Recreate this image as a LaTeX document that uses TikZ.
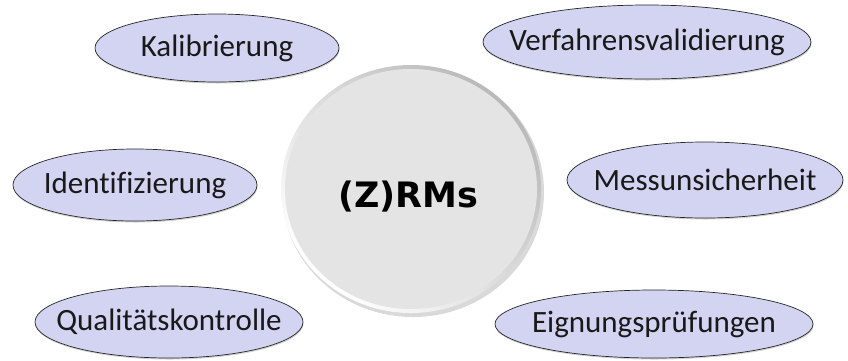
\documentclass[tikz,border=0pt]{standalone}
\usepackage{fontspec}
\setmainfont[Ligatures=NoCommon]{Carlito}
\newfontfamily\discfont{DejaVu Sans}
\usetikzlibrary{shapes.geometric,shadows}
\definecolor{lav}{HTML}{D2D4F2}
\definecolor{discfill}{HTML}{E4E4E4}
\tikzset{
  topic/.style={ellipse, draw=black!85, line width=0.7pt, fill=lav, inner sep=-40pt,
    font=\fontsize{31}{36}\selectfont, text=black!90,
    drop shadow={shadow xshift=0.5pt, shadow yshift=-1.5pt, opacity=0.35}},
}
\begin{document}
\begin{tikzpicture}[x=1pt,y=-1pt]
\useasboundingbox (0,0) rectangle (848,360);
% central disc
\fill[black, opacity=0.15] (413,192) ellipse [x radius=131, y radius=125];
\shade[left color=white, right color=gray!55, shading angle=135] (411,189) ellipse [x radius=130, y radius=124];
\fill[discfill] (411,189) ellipse [x radius=126, y radius=120];
\node[font=\discfont\bfseries\fontsize{35}{40}\selectfont, inner sep=0pt, anchor=base] (c) at (408,207) {(Z)RMs};
% topics
\node[topic, minimum width=244, minimum height=68] (kal) at (217,48) {Kalibrierung};
\node[topic, minimum width=328, minimum height=74] (ver) at (647,42) {Verfahrensvalidierung};
\node[topic, minimum width=244, minimum height=72] (ide) at (135,185) {Identifizierung};
\node[topic, minimum width=276, minimum height=76] (mes) at (705,180) {Messunsicherheit};
\node[topic, minimum width=268, minimum height=72] (qua) at (169,322) {Qualitätskontrolle};
\node[topic, minimum width=318, minimum height=68] (eig) at (654,324) {Eignungsprüfungen};
\end{tikzpicture}
\end{document}
